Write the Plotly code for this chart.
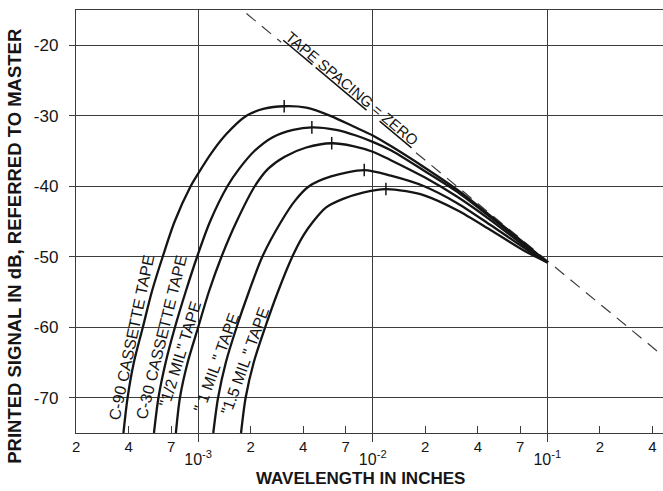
import math
import plotly.graph_objects as go

# ---------------- data (wavelength in inches, printed signal in dB) -------------
c90_x = [3.73e-4, 3.94e-4, 4.28e-4, 4.82e-4, 5.42e-4, 6.26e-4, 7.33e-4, 9.05e-4, 1.0e-3,
         1.19e-3, 1.45e-3, 1.89e-3, 2.39e-3, 3.11e-3, 4.16e-3, 5.77e-3, 7.71e-3, 1.0e-2,
         1.27e-2, 1.97e-2, 3.05e-2, 4.73e-2, 7.33e-2, 1.0e-1]
c90_y = [-75, -70, -65, -60, -55, -50, -45, -40, -38.2,
         -35.3, -32.6, -30.0, -29.0, -28.65, -28.85, -30.05, -31.5, -32.8,
         -34.3, -37.3, -40.5, -44.2, -48.0, -50.8]

c30_x = [5.58e-4, 5.92e-4, 6.51e-4, 7.36e-4, 8.47e-4, 9.86e-4, 1.17e-3, 1.47e-3, 1.72e-3,
         2.10e-3, 2.69e-3, 3.50e-3, 4.48e-3, 6.17e-3, 8.02e-3, 1.0e-2,
         1.27e-2, 1.97e-2, 3.05e-2, 4.73e-2, 7.33e-2, 1.0e-1]
c30_y = [-75, -70, -65, -60, -55, -50, -45, -40, -37.5,
         -35.0, -33.0, -32.0, -31.65, -32.0, -32.8, -33.7,
         -34.9, -37.8, -40.8, -44.4, -48.1, -50.8]

half_x = [7.45e-4, 7.86e-4, 8.70e-4, 1.0e-3, 1.15e-3, 1.36e-3, 1.66e-3, 2.11e-3, 2.52e-3,
          3.13e-3, 4.16e-3, 5.82e-3, 7.71e-3, 1.0e-2,
          1.27e-2, 1.97e-2, 3.05e-2, 4.73e-2, 7.33e-2, 1.0e-1]
half_y = [-75, -70, -65, -60, -55, -50, -45, -40, -37.5,
          -35.8, -34.5, -33.9, -34.3, -35.1,
          -36.3, -38.7, -41.5, -44.8, -48.4, -50.8]

one_x = [1.22e-3, 1.30e-3, 1.44e-3, 1.66e-3, 1.95e-3, 2.33e-3, 2.99e-3, 3.60e-3, 4.32e-3,
         5.77e-3, 8.94e-3, 1.27e-2, 1.97e-2, 3.05e-2, 4.73e-2, 7.33e-2, 1.0e-1]
one_y = [-75, -70, -65, -60, -55, -50, -45, -42, -40,
         -38.6, -37.7, -38.5, -40.0, -42.4, -45.5, -48.7, -50.8]

onehalf_x = [1.76e-3, 1.87e-3, 2.08e-3, 2.42e-3, 2.86e-3, 3.46e-3, 4.00e-3, 4.56e-3, 5.41e-3,
             6.76e-3, 8.79e-3, 1.19e-2, 1.55e-2, 1.97e-2, 3.05e-2, 4.73e-2, 7.33e-2, 1.0e-1]
onehalf_y = [-75, -70, -65, -60, -55, -50, -47, -45, -43,
             -41.8, -40.9, -40.4, -40.7, -41.3, -43.4, -46.2, -49.1, -50.8]

peak_x = [3.11e-3, 4.48e-3, 5.82e-3, 8.94e-3, 1.19e-2]
peak_y = [-28.65, -31.65, -33.9, -37.7, -40.4]

# zero-spacing reference line (broken where its label sits)
zero_x = [1.89e-3, 2.99e-3, None, 1.77e-2, 0.5]
zero_y = [-15.5, -19.57, None, -35.24, -64.8]

labels = ["C-90 CASSETTE TAPE", "C-30 CASSETTE TAPE", '"1/2 MIL" TAPE',
          '" 1 MIL " TAPE', '"1.5 MIL " TAPE']
label_x = [4.17e-4, 6.18e-4, 7.83e-4, 1.27e-3, 1.84e-3]
label_y = [-61.5, -61.5, -63.8, -65.0, -64.8]
label_angle = [-78, -76, -73, -70, -70]

zero_label = "<u>TAPE</u> <u>SPACING</u> = <u>ZERO</u>"
zero_label_x = 7.60e-3
zero_label_y = -26.2
zero_label_angle = 40

y_ticks = [-20, -30, -40, -50, -60, -70]
y_ticktext = ["-20", "-30", "-40", "-50", "-60", "-70"]
x_minor_ticks = [2e-4, 4e-4, 7e-4, 2e-3, 4e-3, 7e-3, 2e-2, 4e-2, 7e-2, 2e-1, 4e-1]
x_minor_text = ["2", "4", "7", "2", "4", "7", "2", "4", "7", "2", "4"]
x_decades = [1e-3, 1e-2, 1e-1]
x_decade_text = ["10<sup>-3</sup>", "10<sup>-2</sup>", "10<sup>-1</sup>"]

x_title = "WAVELENGTH IN INCHES"
y_title = "PRINTED SIGNAL IN dB, REFERRED TO MASTER"

# ---------------- figure -------------
FONT = "Liberation Sans, Arial, sans-serif"
INK = "#151515"
GRID = "#3c3c3c"

fig = go.Figure()

fig.add_trace(go.Scatter(x=zero_x, y=zero_y, mode="lines", connectgaps=False,
                         line=dict(color=GRID, width=1.2, dash="12px,8px"),
                         hoverinfo="skip", showlegend=False))

for xs, ys in [(c90_x, c90_y), (c30_x, c30_y), (half_x, half_y),
               (one_x, one_y), (onehalf_x, onehalf_y)]:
    fig.add_trace(go.Scatter(x=xs, y=ys, mode="lines",
                             line=dict(color=INK, width=2.3, shape="spline", smoothing=0.8),
                             showlegend=False))

fig.add_trace(go.Scatter(x=peak_x, y=peak_y, mode="markers",
                         marker=dict(symbol="line-ns-open", size=9, color=INK,
                                     line=dict(color=INK, width=1.5)),
                         showlegend=False))

# decade axis (grid lines + 10^-n labels)
fig.add_trace(go.Scatter(x=[x_decades[0]], y=[-75], mode="markers",
                         marker=dict(opacity=0), xaxis="x2", showlegend=False,
                         hoverinfo="skip"))

for t, x, y, a in zip(labels, label_x, label_y, label_angle):
    fig.add_annotation(x=math.log10(x), y=y, text=t, textangle=a,
                       showarrow=False, font=dict(family=FONT, size=16, color=INK))

fig.add_annotation(x=math.log10(zero_label_x), y=zero_label_y,
                   text=zero_label, textangle=zero_label_angle, showarrow=False,
                   font=dict(family=FONT, size=15, color=INK))

fig.add_annotation(xref="paper", yref="paper", x=0.484, y=-0.107, text=x_title,
                   showarrow=False, xanchor="center", yanchor="middle",
                   font=dict(family=FONT, size=17, color=INK, weight="bold"))
fig.add_annotation(xref="paper", yref="paper", x=-0.106, y=0.442, text=y_title,
                   showarrow=False, textangle=-90, xanchor="center", yanchor="middle",
                   font=dict(family=FONT, size=18.5, color=INK, weight="bold"))

xr = [-3.70, -0.337]
fig.update_layout(
    width=663, height=491,
    margin=dict(l=76, r=0, t=10, b=58),
    paper_bgcolor="white", plot_bgcolor="white",
    font=dict(family=FONT, color=INK),
    xaxis=dict(type="log", range=xr, tickvals=x_minor_ticks, ticktext=x_minor_text,
               ticks="inside", ticklen=7, tickcolor=GRID, tickwidth=1.2,
               showgrid=False, zeroline=False, showline=True, linecolor=GRID,
               linewidth=1.4, mirror=True, tickfont=dict(size=15, color=INK)),
    xaxis2=dict(type="log", range=xr, overlaying="x", anchor="y", side="bottom",
                tickvals=x_decades, ticktext=x_decade_text, ticks="outside",
                ticklen=8, tickcolor=GRID, tickwidth=1.2, showgrid=True,
                gridcolor=GRID, gridwidth=1.2, showline=False, zeroline=False,
                ticklabelstandoff=4, tickfont=dict(size=16, color=INK)),
    yaxis=dict(range=[-75, -15], tickvals=y_ticks, ticktext=y_ticktext,
               ticks="outside", ticklen=6, tickcolor=GRID, tickwidth=1.2,
               showgrid=True, gridcolor=GRID, gridwidth=1.2, zeroline=False,
               showline=True, linecolor=GRID, linewidth=1.4, ticklabelstandoff=7,
               tickfont=dict(size=17, color=INK)),
)

fig.write_html("out.html")
